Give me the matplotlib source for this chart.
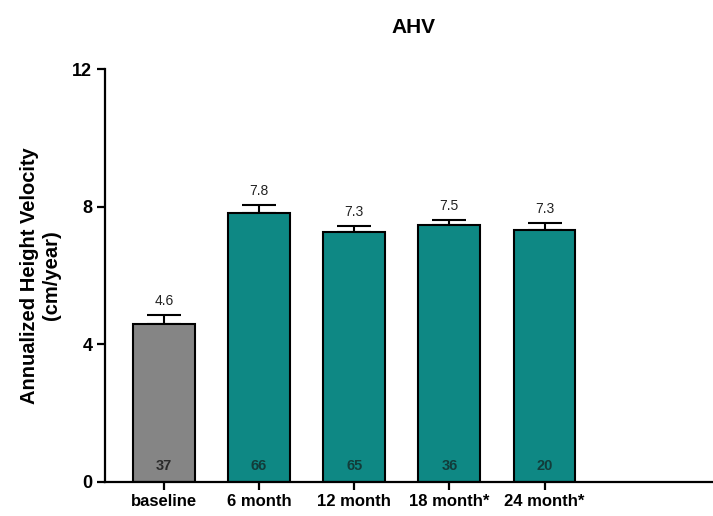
import numpy as np
import matplotlib.pyplot as plt

plt.rcParams['font.family'] = ['Liberation Sans', 'DejaVu Sans']

categories = ['baseline', '6 month', '12 month', '18 month*', '24 month*']
ahv = [4.6, 7.82, 7.28, 7.46, 7.32]
sem = [0.25, 0.24, 0.17, 0.15, 0.2]
value_labels = ['4.6', '7.8', '7.3', '7.5', '7.3']
n_patients = [37, 66, 65, 36, 20]
bar_colors = ['#858585', '#0e8884', '#0e8884', '#0e8884', '#0e8884']
count_colors = ['#2a2a2a', '#123c3a', '#123c3a', '#123c3a', '#123c3a']

fig = plt.figure(figsize=(7.13, 5.16), dpi=100)
ax = fig.add_axes([0.147, 0.066, 0.853, 0.8])

x = np.arange(len(categories))
ax.bar(x, ahv, width=0.65, color=bar_colors, edgecolor='black', linewidth=1.5, zorder=2)
ax.errorbar(x, ahv, yerr=[np.zeros(len(sem)), sem], fmt='none', ecolor='black',
            elinewidth=1.5, capsize=12, capthick=1.5, zorder=1)

for xi, v, e, lab, n, cc in zip(x, ahv, sem, value_labels, n_patients, count_colors):
    ax.text(xi, v + e + 0.2, lab, ha='center', va='bottom', fontsize=10, color='#222222')
    ax.text(xi, 0.25, str(n), ha='center', va='bottom', fontsize=10.5,
            color=cc, fontweight='bold')

ax.set_xlim(-0.62, 5.77)
ax.set_ylim(0, 12)
ax.set_yticks([0, 4, 8, 12])
ax.set_xticks(x)
ax.set_xticklabels(categories, fontsize=12, fontweight='bold')
for t in ax.get_yticklabels():
    t.set_fontsize(13)
    t.set_fontweight('bold')

ax.spines['top'].set_visible(False)
ax.spines['right'].set_visible(False)
ax.spines['left'].set_linewidth(1.6)
ax.spines['bottom'].set_linewidth(1.6)
ax.tick_params(axis='both', width=1.6, length=6, pad=3)

ax.set_ylabel('Annualized Height Velocity\n(cm/year)', fontsize=14.5, fontweight='bold',
              labelpad=8, linespacing=1.2)
ax.set_title('AHV', fontsize=15, fontweight='bold', pad=26, x=0.507)

fig.savefig('out.png', dpi=100)
